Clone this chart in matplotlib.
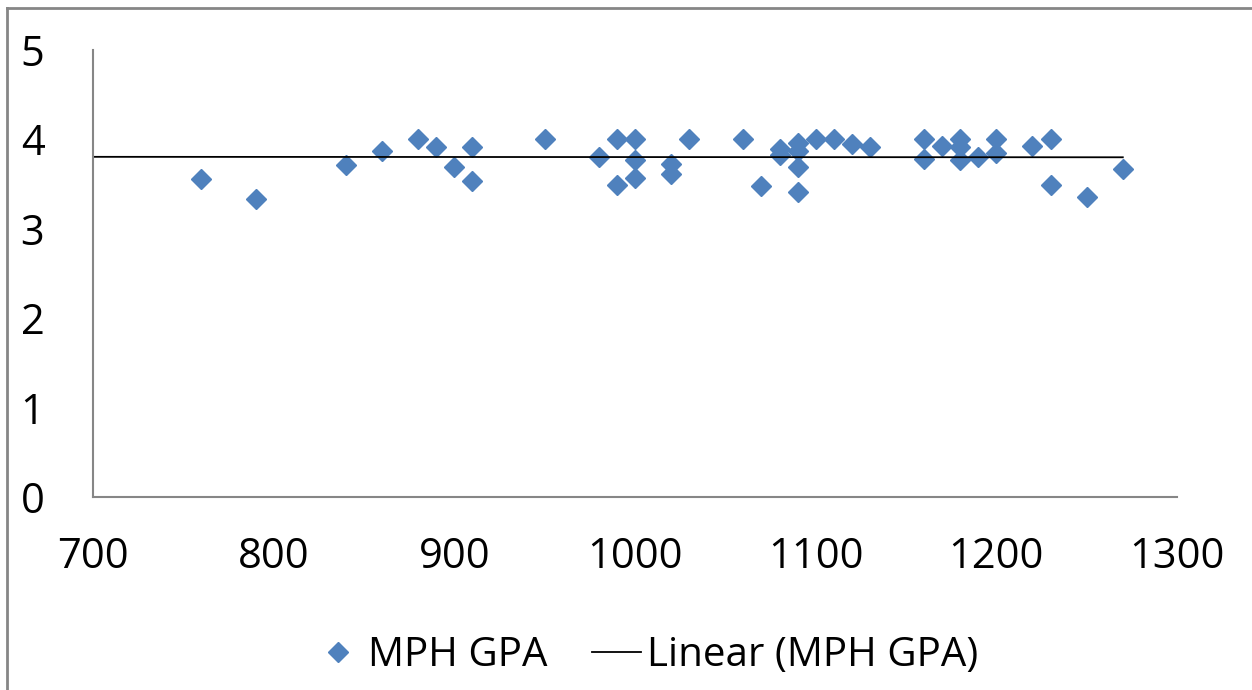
import matplotlib.pyplot as plt
import numpy as np
from matplotlib.lines import Line2D

plt.rcParams['font.family'] = ['Open Sans', 'DejaVu Sans']

# SAT score vs MPH GPA
sat = [760, 790, 840, 860, 880, 890, 900, 910, 910, 950,
       980, 990, 990, 1000, 1000, 1000, 1020, 1020, 1030, 1060,
       1070, 1080, 1080, 1090, 1090, 1090, 1090, 1100, 1110, 1120,
       1130, 1160, 1160, 1170, 1180, 1180, 1180, 1190, 1200, 1200,
       1220, 1230, 1230, 1250, 1270]
gpa = [3.56, 3.33, 3.71, 3.87, 4.00, 3.92, 3.69, 3.91, 3.53, 4.00,
       3.80, 4.00, 3.49, 4.00, 3.77, 3.57, 3.72, 3.61, 4.00, 4.00,
       3.48, 3.89, 3.82, 3.96, 3.87, 3.69, 3.41, 4.00, 4.00, 3.95,
       3.91, 4.00, 3.78, 3.93, 4.00, 3.92, 3.77, 3.80, 4.00, 3.85,
       3.93, 4.00, 3.49, 3.36, 3.67]

# trendline ends as drawn in the original (Excel fit on the full data)
trend_x = [700, 1270]
trend_y = [3.805, 3.80]

xticks = [700, 800, 900, 1000, 1100, 1200, 1300]
yticks = [0, 1, 2, 3, 4, 5]

blue = '#4F81BD'
grey = '#868686'

fig = plt.figure(figsize=(12.52, 6.9), dpi=100)
ax = fig.add_axes([93/1252, 1 - 497/690, (1177 - 93)/1252, (497 - 50)/690])

ax.plot(sat, gpa, linestyle='none', marker='D', markersize=10,
        color=blue, label='MPH GPA')
ax.plot(trend_x, trend_y, color='black', linewidth=1.3, label='Linear (MPH GPA)')

ax.set_xlim(700, 1300)
ax.set_ylim(0, 5)
ax.set_xticks(xticks)
ax.set_yticks(yticks)
ax.tick_params(length=0, labelsize=30)
ax.tick_params(axis='y', pad=35)
ax.tick_params(axis='x', pad=28)
for s in ['top', 'right']:
    ax.spines[s].set_visible(False)
for s in ['left', 'bottom']:
    ax.spines[s].set_color(grey)
    ax.spines[s].set_linewidth(1.5)

handles = [Line2D([], [], linestyle='none', marker='D', markersize=10, color=blue),
           Line2D([], [], color='black', linewidth=1.3)]
fig.legend(handles, ['MPH GPA', 'Linear (MPH GPA)'], loc='center',
           bbox_to_anchor=(646/1252, 1 - 656/690), ncol=2, frameon=False,
           fontsize=29, handlelength=1.2, handletextpad=0.15, columnspacing=1.1)

# chart border (only top/left visible in the crop)
fig.add_artist(Line2D([7/1252, 1], [1 - 7.5/690, 1 - 7.5/690], color=grey, linewidth=2))
fig.add_artist(Line2D([7/1252, 7/1252], [0, 1 - 7.5/690], color=grey, linewidth=2))

fig.savefig('out.png', dpi=100)
